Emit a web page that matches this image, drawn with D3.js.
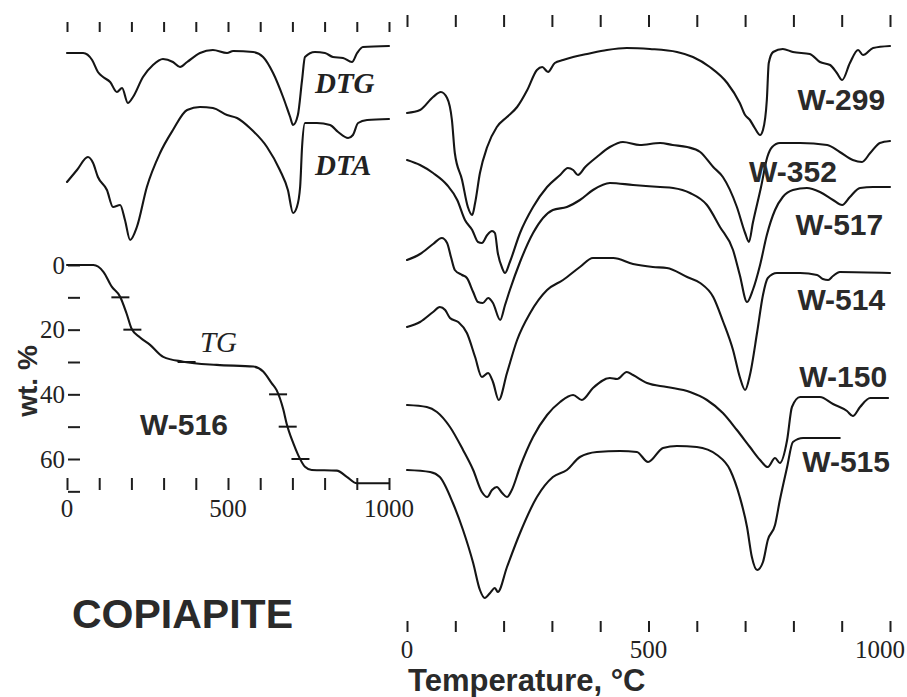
<!DOCTYPE html>
<html>
<head>
<meta charset="utf-8">
<style>
    body { margin: 0; background: #fff; }
    svg { display: block; }
    .curve { fill: none; stroke: #151515; stroke-width: 2.1px; stroke-linejoin: round; stroke-linecap: round; }
    .ticks line { stroke: #1e1e1e; stroke-width: 2px; }
    .ticks .domain { display: none; }
    .num { font-family: 'Liberation Serif', 'Times New Roman', serif; font-size: 25px; fill: #222; }
    .ital { font-family: 'Liberation Serif', 'Times New Roman', serif; font-style: italic; font-size: 29px; fill: #222; }
    .sample { font-family: 'Liberation Sans', Arial, sans-serif; font-weight: bold; font-size: 30px; fill: #2a2a2a; }
    .title { font-family: 'Liberation Sans', Arial, sans-serif; font-weight: bold; fill: #2a2a2a; }
</style>
</head>
<body>
<svg width="907" height="697"></svg>
<script src="https://d3js.org/d3.v7.min.js"></script>
<script>
// temperature ticks (°C) and labels
let tempTicks = [0, 100, 200, 300, 400, 500, 600, 700, 800, 900, 1000]
let tempLabels = [0, 500, 1000]
// TG weight-loss axis (wt. %)
let wtTicks = [0, 10, 20, 30, 40, 50, 60, 70]
let wtLabels = [0, 20, 40, 60]

// W-516 curves, [temperature °C, value]; DTG / DTA in arbitrary units
let dtg516 = [[0,61.7],[50,61.7],[78,61],[96,59.8],[112,59.3],[134,58.8],[155,57.8],[171,58.2],[189,56.7],[205,57.3],[236,59.3],[267,60.5],[298,61.1],[329,60.8],[351,60.3],[373,60.8],[413,61.7],[453,62],[497,61.7],[516,61.9],[578,61.8],[609,61.3],[640,59.7],[671,57.3],[693,55.3],[702,54.5],[717,55.5],[730,59],[739,61.3],[770,61.8],[801,61.7],[826,61.3],[857,61.2],[885,60.8],[901,61.7],[919,62.3],[1000,62.4]]
let dta516 = [[0,48.8],[31,50],[65,51.3],[81,50.7],[96,49.3],[124,48],[143,46.3],[165,46.5],[180,45],[196,43],[217,44.3],[248,48.3],[289,51.7],[329,54],[373,56],[413,56.3],[453,56.2],[497,55.5],[528,55.2],[568,54.2],[621,52.3],[661,50],[686,48],[702,45.7],[714,46.3],[724,48.3],[730,52.3],[739,54.7],[776,54.7],[817,54.5],[842,53.8],[873,53.2],[888,53.5],[904,54.7],[932,55],[1000,55.1]]
let tg516 = [[0,0],[82,0],[113,2.1],[139,6.7],[165,9.8],[185,15],[201,19.8],[227,22.4],[258,24.7],[299,28.4],[361,29.9],[465,30.9],[579,31.4],[610,33],[636,36.6],[651,38.7],[672,44.8],[682,49],[703,55.2],[718,58.8],[739,62.4],[760,63.4],[838,63.6],[869,65.5],[900,67.5],[1000,67.5]]

// DTA curves of the other samples, arbitrary units
let w299 = [[0,55.7],[27,56],[54,57.3],[70,57.8],[83,57.2],[93,55],[99,51.7],[114,49],[126,46.3],[135,45.5],[141,46.7],[151,49.7],[166,52.3],[186,54.3],[207,55.3],[228,56.3],[249,58],[269,60],[280,60.3],[292,59.8],[306,60.7],[323,61],[344,61.3],[373,61.6],[414,62],[455,62.2],[503,62.1],[559,61.8],[592,61.3],[627,60.3],[663,58.7],[689,56.7],[700,55.5],[710,55],[720,54.2],[731,53.5],[737,54],[745,57],[749,60.7],[758,61.8],[778,62.1],[799,61.8],[834,61.6],[855,60.8],[876,60.5],[890,59.7],[901,59],[917,60.7],[934,62],[944,61.5],[965,62.2],[1000,62.4]]
let w352 = [[0,51],[27,50.5],[54,49.7],[83,48.5],[104,47],[120,45],[135,44],[147,42.8],[155,42.7],[166,43.5],[176,43.9],[182,43.7],[188,41.7],[197,40.2],[203,39.7],[213,40.8],[234,43.7],[261,46.3],[290,48.3],[317,49.5],[333,50.2],[344,50],[354,49.5],[369,50.3],[393,51.3],[420,52.3],[447,52.8],[482,52.5],[524,52.7],[550,52.5],[580,52.3],[607,51.8],[634,50.3],[654,49.3],[683,46.3],[700,43.7],[708,42.8],[716,44.7],[733,48.3],[746,51.3],[756,52.3],[772,52.7],[814,52.7],[870,52.5],[896,51.8],[923,51],[942,50.8],[959,51.7],[979,52.7],[1000,52.9]]
let w517 = [[0,41],[27,41.6],[54,42.6],[72,43.2],[83,42.7],[91,41.3],[99,40],[114,39.5],[124,39.2],[137,37.8],[147,36.8],[157,36.7],[168,37.2],[178,36.7],[193,35],[203,36.5],[213,38],[234,40.8],[261,43.7],[302,46],[331,46.3],[358,47],[385,48],[420,48.7],[468,48.5],[524,48.3],[551,48.2],[586,47.7],[621,46.5],[648,44.3],[675,42],[689,39.5],[704,36.8],[716,38],[731,40.5],[745,43.5],[762,46],[778,47.3],[799,48],[828,48.2],[855,47.8],[882,47],[901,46.5],[917,47.3],[938,48.2],[965,48.3],[1000,48.3]]
let w514 = [[0,34.3],[27,34.8],[54,35.8],[68,36.3],[79,36],[89,35.2],[106,34.8],[124,33.7],[141,31.3],[155,29.3],[168,29.7],[178,28.8],[190,27],[207,29.7],[228,33],[255,35.7],[290,38],[323,39],[358,40.3],[385,41.2],[427,41.2],[468,40.6],[509,40.3],[538,40.2],[580,39.3],[607,38.7],[634,37.3],[654,34.9],[675,32],[689,29.3],[700,28],[710,29.5],[725,33.8],[737,37.5],[747,39.2],[766,39.7],[814,39.7],[849,39.5],[861,39.1],[872,39],[882,39.4],[896,39.8],[1000,39.7]]
let w150 = [[0,26.5],[41,26.3],[62,25.8],[89,24.3],[116,22],[137,20],[155,17.8],[166,17.3],[176,18],[186,18.3],[197,17.7],[207,17.3],[217,18],[234,20.3],[261,23.3],[290,25.5],[317,26.8],[344,27.5],[362,27],[385,28.2],[420,29.2],[435,29.1],[455,29.8],[468,29.5],[497,28.7],[538,28.3],[586,27.8],[621,27],[654,25.7],[683,24],[710,22.3],[731,21],[747,20.3],[762,21.2],[772,20.7],[787,23],[797,26.3],[814,27.3],[855,27.3],[882,26.6],[911,25.9],[923,25.4],[938,26.3],[959,27.2],[996,27.2]]
let w515 = [[0,20],[48,19.8],[68,19.3],[95,16.7],[116,14],[137,10.7],[151,8],[161,7.2],[172,7.7],[182,8.2],[188,7.8],[207,10.3],[234,13.7],[269,17.3],[302,19.3],[331,20],[358,21.3],[393,21.8],[441,21.9],[476,21.8],[499,20.8],[530,22.2],[559,22.4],[600,22.3],[642,21.5],[669,20],[689,17.3],[704,14.3],[714,11.3],[725,10],[737,10.8],[747,13],[762,14.5],[772,17],[787,20.3],[799,22.8],[820,23.2],[896,23.2]]

let sampleNames = ["W-299", "W-352", "W-517", "W-514", "W-150", "W-515"]
let sampleCurves = [w299, w352, w517, w514, w150, w515]

let svg = d3.select("svg")

let xL = d3.scaleLinear().domain([0, 1000]).range([67, 389])
let xR = d3.scaleLinear().domain([0, 1000]).range([407, 890])
let ySig = d3.scaleLinear().domain([0, 66]).range([670, 10])
let yWt = d3.scaleLinear().domain([0, 60]).range([265, 459])

function tickRow(x, y, size) {
    svg.append("g")
        .attr("class", "ticks")
        .attr("transform", `translate(0,${y})`)
        .call(d3.axisBottom(x).tickValues(tempTicks).tickSize(size).tickFormat(""))
}
tickRow(xL, 22, 10)
tickRow(xL, 478, 12)
tickRow(xR, 15, 12)
tickRow(xR, 621, 11)

svg.append("g").selectAll("text")
    .data(tempLabels)
    .join("text")
    .attr("class", "num")
    .attr("x", d => xL(d))
    .attr("y", 517)
    .attr("text-anchor", "middle")
    .text(d => d)

svg.append("g").selectAll("text")
    .data(tempLabels)
    .join("text")
    .attr("class", "num")
    .attr("x", d => xR(d))
    .attr("dx", d => d == 1000 ? -10 : 0)
    .attr("y", 658)
    .attr("text-anchor", "middle")
    .text(d => d)

// wt. % axis: dashes only
svg.append("g")
    .attr("class", "ticks")
    .attr("transform", "translate(68,0)")
    .call(d3.axisRight(yWt).tickValues(wtTicks).tickSize(12).tickFormat(""))

svg.append("g").selectAll("text")
    .data(wtLabels)
    .join("text")
    .attr("class", "num")
    .attr("x", 65)
    .attr("y", d => yWt(d))
    .attr("dy", "0.35em")
    .attr("text-anchor", "end")
    .text(d => d)

let lineL = d3.line().x(d => xL(d[0])).y(d => ySig(d[1])).curve(d3.curveMonotoneX)
let lineTG = d3.line().x(d => xL(d[0])).y(d => yWt(d[1])).curve(d3.curveMonotoneX)
let lineR = d3.line().x(d => xR(d[0])).y(d => ySig(d[1])).curve(d3.curveMonotoneX)

svg.append("path").attr("class", "curve").attr("d", lineL(dtg516))
svg.append("path").attr("class", "curve").attr("d", lineL(dta516))
svg.append("path").attr("class", "curve").attr("d", lineTG(tg516))

// short marks where the TG curve crosses every 10 %
function tempAtWt(w) {
    for (let i = 0; i < tg516.length - 1; i++) {
        let a = tg516[i], b = tg516[i + 1]
        if (w >= a[1] && w <= b[1] && b[1] > a[1]) {
            return a[0] + (w - a[1]) / (b[1] - a[1]) * (b[0] - a[0])
        }
    }
}
svg.append("g").selectAll("line")
    .data([10, 20, 30, 40, 50, 60])
    .join("line")
    .attr("x1", d => xL(tempAtWt(d)) - 9)
    .attr("x2", d => xL(tempAtWt(d)) + 9)
    .attr("y1", d => yWt(d))
    .attr("y2", d => yWt(d))
    .style("stroke", "#151515")
    .style("stroke-width", 2)

svg.append("g").selectAll("path")
    .data(sampleCurves)
    .join("path")
    .attr("class", "curve")
    .attr("d", d => lineR(d))

// sample labels: right edge (°C) and baseline (signal units)
let labelAt = [[990, 56.0], [890, 48.8], [986, 43.5], [990, 36.0], [994, 28.3], [1000, 19.8]]
svg.append("g").selectAll("text")
    .data(sampleNames)
    .join("text")
    .attr("class", "sample")
    .attr("x", (d, i) => xR(labelAt[i][0]))
    .attr("y", (d, i) => ySig(labelAt[i][1]))
    .attr("text-anchor", "end")
    .text(d => d)

svg.append("text").attr("class", "ital").style("font-weight", "bold")
    .attr("x", xL(770)).attr("y", ySig(57.7)).text("DTG")
svg.append("text").attr("class", "ital").style("font-weight", "bold")
    .attr("x", xL(770)).attr("y", ySig(49.5)).text("DTA")
svg.append("text").attr("class", "ital")
    .attr("x", xL(413)).attr("y", yWt(26.9)).text("TG")
svg.append("text").attr("class", "sample")
    .attr("x", xL(227)).attr("y", yWt(52.6)).text("W-516")

svg.append("text").attr("class", "title")
    .attr("transform", "translate(37,381) rotate(-90)")
    .attr("text-anchor", "middle")
    .style("font-size", "28px")
    .text("wt. %")

svg.append("text").attr("class", "title")
    .attr("x", 72).attr("y", 628)
    .style("font-size", "41px")
    .text("COPIAPITE")

svg.append("text").attr("class", "title")
    .attr("x", 408).attr("y", 691)
    .style("font-size", "31px")
    .text("Temperature, °C")
</script>
</body>
</html>
